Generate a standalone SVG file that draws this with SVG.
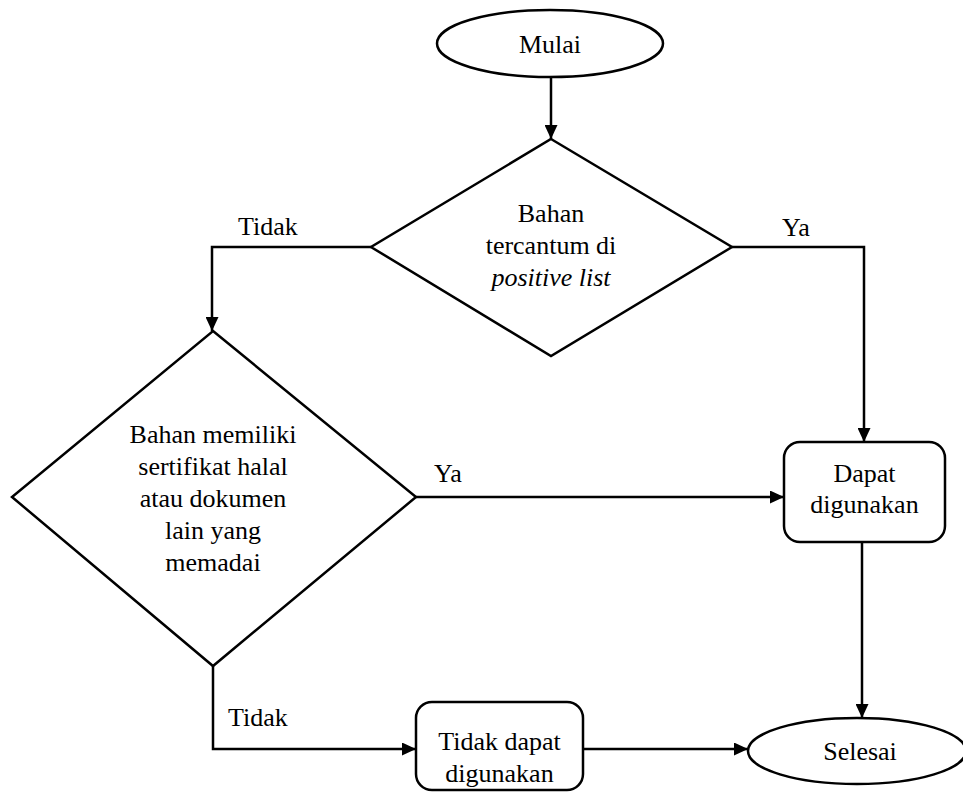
<svg xmlns="http://www.w3.org/2000/svg" width="963" height="792" viewBox="0 0 963 792">
<defs>
<marker id="ah" markerWidth="14" markerHeight="13" refX="14" refY="6.5" orient="auto" markerUnits="userSpaceOnUse">
<path d="M0,0 L14,6.5 L0,13 Z" fill="#000"/>
</marker>
</defs>
<style>
.s{fill:#fff;stroke:#000;stroke-width:2.5}
.c{fill:none;stroke:#000;stroke-width:2.5;marker-end:url(#ah)}
text{font-family:"Liberation Serif","Times New Roman",serif;font-size:26px;fill:#000}
.m{text-anchor:middle}
</style>
<rect width="963" height="792" fill="#fff"/>
<g id="connectors">
<path class="c" d="M551,77 V139"/>
<path class="c" d="M371,247 H212 V331"/>
<path class="c" d="M732,247 H864 V442"/>
<path class="c" d="M416,497 H784"/>
<path class="c" d="M213,666 V749 H416"/>
<path class="c" d="M583,749 H748"/>
<path class="c" d="M862,542 V718"/>
<text x="238" y="235">Tidak</text>
<text x="782" y="236">Ya</text>
<text x="434" y="482">Ya</text>
<text x="228" y="726">Tidak</text>
</g>
<g id="mulai">
<ellipse class="s" cx="550" cy="43.5" rx="113" ry="33.5"/>
<text class="m" x="550" y="53">Mulai</text>
</g>
<g id="decision1">
<polygon class="s" points="551,139 732,247 551,356 371,247"/>
<text class="m" x="551" y="222">Bahan</text>
<text class="m" x="551" y="254">tercantum di</text>
<text class="m" x="551" y="286" font-style="italic">positive list</text>
</g>
<g id="decision2">
<polygon class="s" points="213,331 416,497 213,666 12,497"/>
<text class="m" x="213" y="443">Bahan memiliki</text>
<text class="m" x="213" y="475">sertifikat halal</text>
<text class="m" x="213" y="507">atau dokumen</text>
<text class="m" x="213" y="539">lain yang</text>
<text class="m" x="213" y="571">memadai</text>
</g>
<g id="dapat">
<rect class="s" x="784" y="442" width="161" height="100" rx="16"/>
<text class="m" x="864.5" y="482">Dapat</text>
<text class="m" x="864.5" y="513">digunakan</text>
</g>
<g id="tidakdapat">
<rect class="s" x="416" y="702" width="167" height="88" rx="16"/>
<text class="m" x="499.5" y="750">Tidak dapat</text>
<text class="m" x="499.5" y="782">digunakan</text>
</g>
<g id="selesai">
<ellipse class="s" cx="857" cy="751" rx="109" ry="33"/>
<text class="m" x="860" y="760">Selesai</text>
</g>
</svg>
